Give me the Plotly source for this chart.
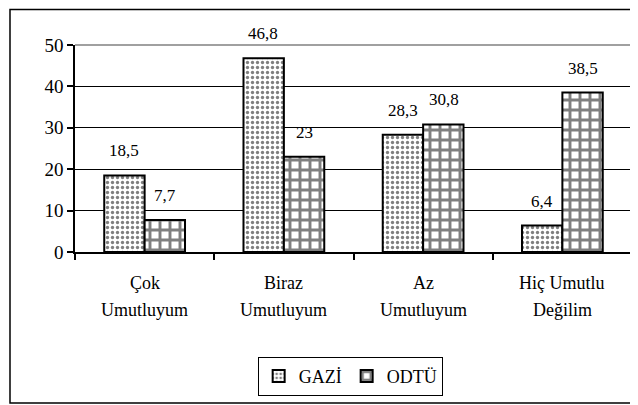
import plotly.graph_objects as go

# Data
line1 = ["Çok", "Biraz", "Az", "Hiç Umutlu"]
line2 = ["Umutluyum", "Umutluyum", "Umutluyum", "Değilim"]
categories = [a + " " + b for a, b in zip(line1, line2)]
gazi = [18.5, 46.8, 28.3, 6.4]
odtu = [7.7, 23, 30.8, 38.5]
y_ticks = [0, 10, 20, 30, 40, 50]

FONT = "'Liberation Serif', 'DejaVu Serif', serif"


def fmt(v):
    return ("%g" % v).replace(".", ",")


fig = go.Figure()
fig.add_trace(go.Bar(
    x=categories, y=gazi, name="GAZİ",
    marker=dict(color="white", line=dict(color="black", width=2),
                pattern=dict(shape=".", fgcolor="black", bgcolor="white",
                             size=5, solidity=0.35)),
))
fig.add_trace(go.Bar(
    x=categories, y=odtu, name="ODTÜ",
    marker=dict(color="white", line=dict(color="black", width=2),
                pattern=dict(shape="+", fgcolor="black", bgcolor="white",
                             size=10, solidity=0.5)),
))

annotations = []
# value labels above bars
for i, c in enumerate(categories):
    for vals, shift in ((gazi, -20.5), (odtu, 20.5)):
        annotations.append(dict(
            x=c, y=vals[i], xref="x", yref="y", text=fmt(vals[i]),
            showarrow=False, xshift=shift, yshift=13, yanchor="bottom",
            font=dict(family=FONT, size=17, color="black")))
# two-line category labels
for c, a, b in zip(categories, line1, line2):
    annotations.append(dict(x=c, y=-0.15, xref="x", yref="paper", text=a,
                            showarrow=False, yanchor="middle",
                            font=dict(family=FONT, size=18, color="black")))
    annotations.append(dict(x=c, y=-0.28, xref="x", yref="paper", text=b,
                            showarrow=False, yanchor="middle",
                            font=dict(family=FONT, size=18, color="black")))

# page body has an 8px margin, so the figure is 8px smaller each way
fig.update_layout(
    width=630, height=397,
    margin=dict(l=67, r=6, t=37, b=153),
    paper_bgcolor="white", plot_bgcolor="white",
    barmode="group", bargap=0.42, bargroupgap=0,
    font=dict(family=FONT, size=18, color="black"),
    showlegend=True,
    legend=dict(orientation="h", x=0.494, xanchor="center", y=-0.6, yanchor="middle",
                bordercolor="black", borderwidth=1, bgcolor="white",
                font=dict(family=FONT, size=18, color="black"),
                itemwidth=30, tracegroupgap=0),
    annotations=annotations,
    shapes=[
        # outer chart border
        dict(type="rect", xref="paper", yref="paper", x0=-0.1167, x1=1.0036,
             y0=-0.729, y1=1.172, line=dict(color="black", width=1.5)),
        # plot area border (top and right, gray)
        dict(type="line", xref="paper", yref="paper", x0=0, x1=1, y0=1, y1=1,
             line=dict(color="#808080", width=1.5)),
        dict(type="line", xref="paper", yref="paper", x0=1, x1=1, y0=0, y1=1,
             line=dict(color="#808080", width=1)),
    ],
)
fig.update_xaxes(
    showticklabels=False, showgrid=False, showline=True, linecolor="black", linewidth=1.5,
    ticks="outside", tickson="boundaries", ticklen=6, tickcolor="black", tickwidth=1.5,
)
fig.update_yaxes(
    range=[0, 50], tickvals=y_ticks, showgrid=True, gridcolor="black", gridwidth=1,
    showline=True, linecolor="black", linewidth=1.5, zeroline=False,
    ticks="outside", ticklen=6, tickcolor="black", tickwidth=1.5,
    tickfont=dict(family=FONT, size=19, color="black"),
)

fig.write_html("out.html")
